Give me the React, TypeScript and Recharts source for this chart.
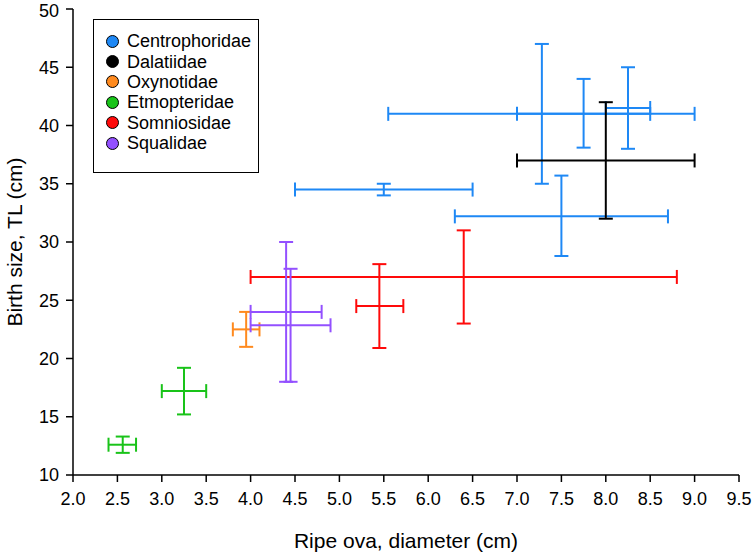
import React from 'react';
import { ScatterChart, Scatter, XAxis, YAxis, ErrorBar, Legend } from 'recharts';

const familyNames = ['Centrophoridae', 'Dalatiidae', 'Oxynotidae', 'Etmopteridae', 'Somniosidae', 'Squalidae'];
const familyColors = ['#1E88F5', '#000000', '#FF8A1E', '#19C319', '#FF0A0A', '#9350FF'];

// Centrophoridae
const centroX = [7.28, 7.75, 8.25, 5.5, 7.5];
const centroY = [41.0, 41.0, 41.5, 34.5, 32.2];
const centroXMin = [5.55, 7.0, 8.0, 4.5, 6.3];
const centroXMax = [9.0, 8.5, 8.5, 6.5, 8.7];
const centroYMin = [35.0, 38.1, 38.0, 34.0, 28.8];
const centroYMax = [47.0, 44.0, 45.0, 35.0, 35.7];

// Dalatiidae
const dalaX = [8.0];
const dalaY = [37.0];
const dalaXMin = [7.0];
const dalaXMax = [9.0];
const dalaYMin = [32.0];
const dalaYMax = [42.0];

// Oxynotidae
const oxyX = [3.95];
const oxyY = [22.5];
const oxyXMin = [3.8];
const oxyXMax = [4.1];
const oxyYMin = [21.0];
const oxyYMax = [24.0];

// Etmopteridae
const etmoX = [2.56, 3.25];
const etmoY = [12.6, 17.2];
const etmoXMin = [2.4, 3.0];
const etmoXMax = [2.71, 3.5];
const etmoYMin = [11.9, 15.2];
const etmoYMax = [13.3, 19.2];

// Somniosidae
const somnX = [6.4, 5.45];
const somnY = [27.0, 24.5];
const somnXMin = [4.0, 5.19];
const somnXMax = [8.8, 5.72];
const somnYMin = [23.0, 20.9];
const somnYMax = [31.0, 28.1];

// Squalidae
const squaX = [4.4, 4.45];
const squaY = [24.0, 22.85];
const squaXMin = [4.0, 4.0];
const squaXMax = [4.8, 4.9];
const squaYMin = [18.0, 18.0];
const squaYMax = [30.0, 27.7];

const xTicks = [2.0, 2.5, 3.0, 3.5, 4.0, 4.5, 5.0, 5.5, 6.0, 6.5, 7.0, 7.5, 8.0, 8.5, 9.0, 9.5];
const yTicks = [10, 15, 20, 25, 30, 35, 40, 45, 50];

function build(x: number[], y: number[], xMin: number[], xMax: number[], yMin: number[], yMax: number[]) {
  return x.map((xv, i) => ({
    x: xv,
    y: y[i],
    xErr: [xv - xMin[i], xMax[i] - xv],
    yErr: [y[i] - yMin[i], yMax[i] - y[i]],
  }));
}

const families = [
  build(centroX, centroY, centroXMin, centroXMax, centroYMin, centroYMax),
  build(dalaX, dalaY, dalaXMin, dalaXMax, dalaYMin, dalaYMax),
  build(oxyX, oxyY, oxyXMin, oxyXMax, oxyYMin, oxyYMax),
  build(etmoX, etmoY, etmoXMin, etmoXMax, etmoYMin, etmoYMax),
  build(somnX, somnY, somnXMin, somnXMax, somnYMin, somnYMax),
  build(squaX, squaY, squaXMin, squaXMax, squaYMin, squaYMax),
];

const font = '"Liberation Sans", Arial, sans-serif';

const LegendBox = () => (
  <div
    style={{
      border: '1px solid #000',
      width: 152,
      height: 141,
      boxSizing: 'content-box',
      paddingTop: 11,
      paddingLeft: 12,
      fontFamily: font,
      fontSize: 18,
      color: '#000',
      background: '#fff',
    }}
  >
    {familyNames.map((n, i) => (
      <div key={n} style={{ display: 'flex', alignItems: 'center', height: 20.4, lineHeight: '20px' }}>
        <span
          style={{
            display: 'inline-block',
            width: 13,
            height: 13,
            borderRadius: '50%',
            background: familyColors[i],
            border: '1px solid #000',
            boxSizing: 'border-box',
            marginRight: 8,
          }}
        />
        <span>{n}</span>
      </div>
    ))}
  </div>
);

export default function App() {
  return (
    <div style={{ position: 'absolute', left: 0, top: 0, fontFamily: font, background: '#fff' }}>
      <ScatterChart width={752} height={555} margin={{ top: 9, right: 13, bottom: 5, left: 13 }}>
        <XAxis
          type="number"
          dataKey="x"
          domain={[2, 9.5]}
          ticks={xTicks}
          tickFormatter={(v: number) => v.toFixed(1)}
          allowDataOverflow
          height={75}
          tickSize={7}
          tickMargin={10}
          axisLine={{ stroke: '#000', strokeWidth: 1.5 }}
          tickLine={{ stroke: '#000', strokeWidth: 1.5 }}
          tick={{ fill: '#000', fontSize: 18, fontFamily: font }}
          label={{ value: 'Ripe ova, diameter (cm)', position: 'insideBottom', offset: 2, fill: '#000', fontSize: 21, fontFamily: font }}
        />
        <YAxis
          type="number"
          dataKey="y"
          domain={[10, 50]}
          ticks={yTicks}
          allowDataOverflow
          width={60}
          tickSize={7}
          tickMargin={7}
          axisLine={{ stroke: '#000', strokeWidth: 1.5 }}
          tickLine={{ stroke: '#000', strokeWidth: 1.5 }}
          tick={{ fill: '#000', fontSize: 18, fontFamily: font }}
          label={{ value: 'Birth size, TL (cm)', angle: -90, position: 'insideLeft', offset: 2, fill: '#000', fontSize: 21, fontFamily: font, style: { textAnchor: 'middle' } }}
        />
        <Legend
          layout="horizontal"
          verticalAlign="middle"
          align="center"
          wrapperStyle={{ left: 93, top: 19, width: 'auto', height: 'auto' }}
          content={() => <LegendBox />}
        />
        {families.map((data, i) => (
          <Scatter
            key={familyNames[i]}
            name={familyNames[i]}
            data={data}
            fill={familyColors[i]}
            isAnimationActive={false}
            shape={() => <g />}
          >
            <ErrorBar dataKey="xErr" direction="x" width={7} stroke={familyColors[i]} strokeWidth={2} />
            <ErrorBar dataKey="yErr" direction="y" width={7} stroke={familyColors[i]} strokeWidth={2} />
          </Scatter>
        ))}
      </ScatterChart>
    </div>
  );
}
